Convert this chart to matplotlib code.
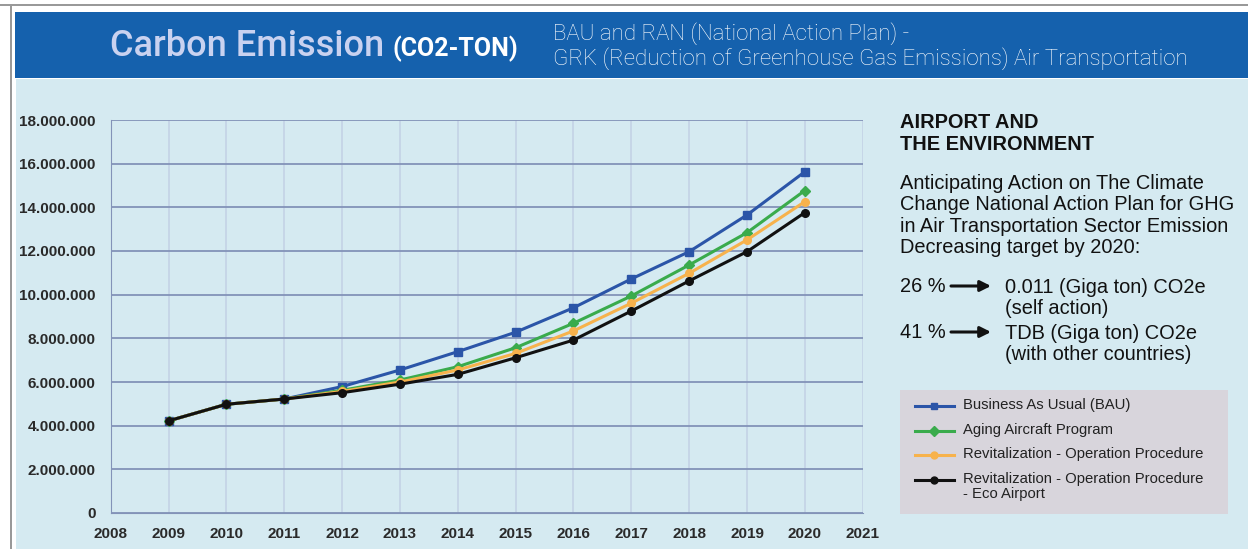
import matplotlib.pyplot as plt
from matplotlib.patches import Rectangle
from matplotlib.lines import Line2D
from matplotlib.ticker import FuncFormatter

years = [2009, 2010, 2011, 2012, 2013, 2014, 2015, 2016, 2017, 2018, 2019, 2020]
bau = [4.22, 4.98, 5.22, 5.79, 6.55, 7.39, 8.28, 9.40, 10.72, 11.97, 13.65, 15.63]
aging = [4.22, 4.98, 5.22, 5.62, 6.09, 6.70, 7.57, 8.69, 9.94, 11.36, 12.84, 14.77]
revit = [4.22, 4.98, 5.22, 5.57, 6.00, 6.55, 7.31, 8.34, 9.61, 10.98, 12.51, 14.26]
eco = [4.22, 4.98, 5.22, 5.51, 5.90, 6.35, 7.11, 7.92, 9.25, 10.63, 11.97, 13.76]

series = [
    ("Business As Usual (BAU)", bau, "#2b55a8", "s"),
    ("Aging Aircraft Program", aging, "#3aab4c", "D"),
    ("Revitalization - Operation Procedure", revit, "#f7b24c", "o"),
    ("Revitalization - Operation Procedure\n- Eco Airport", eco, "#111111", "o"),
]

BG = "#d5eaf1"
BANNER = "#1561ad"
W, H = 1248, 549

plt.rcParams["font.family"] = ["Liberation Sans", "DejaVu Sans"]

fig = plt.figure(figsize=(W / 100, H / 100), dpi=100)
fig.patch.set_facecolor("white")


def px(x, y, w, h):
    """Pixel box (top-left origin) to figure coords."""
    return (x / W, 1 - (y + h) / H), w / W, h / H


def fy(y):
    return 1 - y / H


for (x, y, w, h), col in [((0, 4, W, 2), "#999999"), ((10, 4, 2, H), "#999999"),
                          ((15, 12, W, 66), BANNER), ((16, 79, W, H), BG),
                          ((900, 390, 328, 124), "#d8d5dc")]:
    xy, ww, hh = px(x, y, w, h)
    fig.patches.append(Rectangle(xy, ww, hh, transform=fig.transFigure,
                                 facecolor=col, edgecolor="none", zorder=-5))

fig.text(110 / W, fy(46), "Carbon Emission", family="Roboto", fontsize=26,
         fontweight="medium", color="#c9d2f0", va="center", ha="left")
fig.text(392 / W, fy(49), "(CO2-TON)", family="Roboto", fontsize=18,
         fontweight="bold", color="white", va="center", ha="left")
fig.text(553 / W, fy(34), "BAU and RAN (National Action Plan) -", family="Roboto",
         fontsize=16, fontweight="light", color="white", va="center", ha="left")
fig.text(553 / W, fy(59),
         "GRK (Reduction of Greenhouse Gas Emissions) Air Transportation",
         family="Roboto", fontsize=16, fontweight="light", color="white",
         va="center", ha="left")

ax = fig.add_axes([110.7 / W, fy(513), (862.7 - 110.7) / W, (513 - 120) / H])
ax.set_facecolor(BG)
for name, vals, col, mk in series:
    ax.plot(years, vals, color=col, marker=mk, markersize=5.5 if mk != "D" else 5,
            linewidth=2.2, label=name, zorder=3)

ax.set_xlim(2008, 2021)
ax.set_ylim(0, 18)
ax.set_xticks(range(2008, 2022))
ax.set_yticks(range(0, 19, 2))
ax.yaxis.set_major_formatter(FuncFormatter(
    lambda v, _: "0" if v == 0 else f"{int(v * 1e6):,}".replace(",", ".")))
ax.grid(axis="y", color="#8393b8", linewidth=1.3)
ax.grid(axis="x", color="#c4d3e6", linewidth=1.2)
ax.set_axisbelow(True)
for s in ["top", "right"]:
    ax.spines[s].set_visible(False)
ax.spines["left"].set_color("#8393b8")
ax.spines["bottom"].set_color("#8393b8")
ax.tick_params(length=0, labelsize=11, labelcolor="#2a2a2a")
ax.tick_params(axis="y", pad=11)
ax.tick_params(axis="x", pad=10)
for lab in ax.get_xticklabels() + ax.get_yticklabels():
    lab.set_fontweight("bold")

# side text
txt_kw = dict(fontsize=14.4, color="#111111", ha="left")
fig.text(900 / W, fy(134), "AIRPORT AND\nTHE ENVIRONMENT", fontweight="bold",
         va="center", linespacing=1.2, **txt_kw)
fig.text(900 / W, fy(215.5),
         "Anticipating Action on The Climate\nChange National Action Plan for GHG\n"
         "in Air Transportation Sector Emission\nDecreasing target by 2020:",
         va="center", linespacing=1.15, **txt_kw)
for y, pct, txt in [(286, "26 %", "0.011 (Giga ton) CO2e\n(self action)"),
                    (332, "41 %", "TDB (Giga ton) CO2e\n(with other countries)")]:
    fig.text(900 / W, fy(y), pct, va="center", **txt_kw)
    ax.annotate("", xy=(991 / W, fy(y)), xytext=(951 / W, fy(y)),
                xycoords="figure fraction", textcoords="figure fraction",
                annotation_clip=False,
                arrowprops=dict(arrowstyle="-|>", color="#111111", lw=2.2,
                                mutation_scale=16, shrinkA=0, shrinkB=0))
    fig.text(1005 / W, fy(y + 12), txt, va="center", linespacing=1.15, **txt_kw)

# legend
leg_rows = [406, 431, 455, 480]
for (name, _, col, mk), y in zip(series, leg_rows):
    fig.add_artist(Line2D([915 / W, 954 / W], [fy(y), fy(y)], color=col,
                          linewidth=2.2, transform=fig.transFigure))
    fig.add_artist(Line2D([934.5 / W], [fy(y)], color=col, marker=mk, markersize=5,
                          linestyle="none", transform=fig.transFigure))
    fig.text(963 / W, fy(y - 8), name, fontsize=10.7, color="#222222", va="top",
             ha="left", linespacing=1.1)

fig.savefig("out.png", dpi=100, facecolor=fig.get_facecolor())
